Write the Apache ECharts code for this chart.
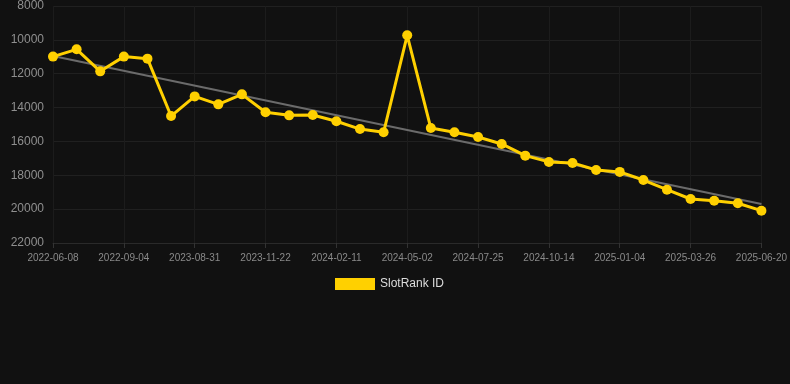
<!DOCTYPE html>
<html>
<head>
<meta charset="utf-8">
<script src="https://cdn.jsdelivr.net/npm/echarts@6/dist/echarts.min.js"></script>
<style>
  html, body { margin: 0; padding: 0; background: #111111; }
  #chart { width: 790px; height: 384px; }
</style>
</head>
<body>
<div id="chart"></div>
<script>
var dates = ['2022-06-08', '2022-07-07', '2022-08-05', '2022-09-04', '2022-10-03', '2023-07-03',
  '2023-08-31', '2023-09-28', '2023-10-26', '2023-11-22', '2023-12-20', '2024-01-15',
  '2024-02-11', '2024-03-10', '2024-04-05', '2024-05-02', '2024-05-30', '2024-06-27',
  '2024-07-25', '2024-08-22', '2024-09-18', '2024-10-14', '2024-11-10', '2024-12-08',
  '2025-01-04', '2025-02-01', '2025-02-28', '2025-03-26', '2025-04-23', '2025-05-22',
  '2025-06-20'];

var rankValues = [10990, 10560, 11860, 10990, 11110, 14500, 13340, 13810, 13220, 14280,
  14460, 14440, 14810, 15270, 15460, 9730, 15210, 15460, 15740, 16150, 16840, 17210,
  17270, 17690, 17800, 18280, 18850, 19400, 19500, 19650, 20090];

// trend line end points
var trendStart = 10950;
var trendEnd = 19700;

var trendValues = dates.map(function (d, i) {
  if (i === 0) return trendStart;
  if (i === dates.length - 1) return trendEnd;
  return null;
});

var myChart = echarts.init(document.getElementById('chart'));

myChart.setOption({
  backgroundColor: '#111111',
  animation: false,
  grid: {
    left: 53,
    right: 28,
    top: 6,
    bottom: 141
  },
  legend: {
    show: true,
    data: ['SlotRank ID'],
    top: 273,
    left: 330,
    itemWidth: 40,
    itemHeight: 12,
    itemGap: 10,
    icon: 'rect',
    textStyle: {
      color: '#dddddd',
      fontSize: 12,
      fontFamily: 'Liberation Sans, Arial, sans-serif'
    }
  },
  xAxis: {
    type: 'category',
    data: dates,
    boundaryGap: false,
    axisLine: { lineStyle: { color: '#2a2a2a' } },
    axisTick: { show: true, interval: 2, lineStyle: { color: '#333333' } },
    axisLabel: {
      interval: 2,
      color: '#8a8a8a',
      fontSize: 10,
      margin: 10,
      fontFamily: 'Liberation Sans, Arial, sans-serif'
    },
    splitLine: { show: true, interval: 2, lineStyle: { color: '#1c1c1c' } }
  },
  yAxis: {
    type: 'value',
    inverse: true,
    min: 8000,
    max: 22000,
    interval: 2000,
    axisLine: { show: false },
    axisTick: { show: false },
    axisLabel: {
      color: '#8f8f8f',
      fontSize: 12,
      margin: 9,
      fontFamily: 'Liberation Sans, Arial, sans-serif',
      formatter: function (v) { return String(v); }
    },
    splitLine: { lineStyle: { color: '#202020' } }
  },
  series: [{
    name: 'Trend',
    type: 'line',
    data: trendValues,
    connectNulls: true,
    showSymbol: false,
    symbol: 'none',
    lineStyle: { color: '#6b6b6b', width: 2 },
    z: 1
  }, {
    name: 'SlotRank ID',
    type: 'line',
    data: rankValues,
    symbol: 'circle',
    symbolSize: 10,
    itemStyle: { color: '#ffd000' },
    lineStyle: { color: '#ffd000', width: 3 },
    z: 2
  }]
});
</script>
</body>
</html>
